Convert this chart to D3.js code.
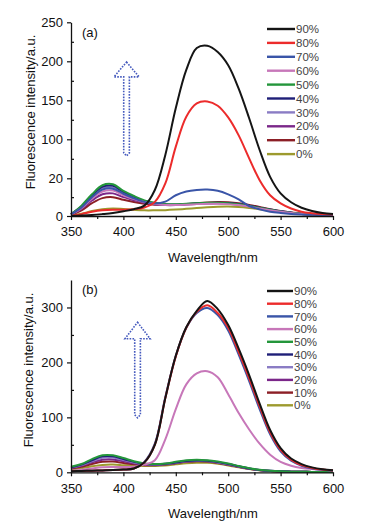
<!DOCTYPE html>
<html>
<head>
<meta charset="utf-8">
<script src="https://cdn.jsdelivr.net/npm/d3@7"></script>
<style>
  body { margin: 0; background: #fff; }
  svg { display: block; font-family: "Liberation Sans", Arial, sans-serif; }
</style>
</head>
<body>
<div id="chart"></div>
<script>
// Fluorescence spectra, two panels (a) and (b)

const wavelengths = [350,360,370,380,390,400,410,420,430,440,450,460,470,480,490,500,510,520,530,540,550,560,570,580,590,600];
const seriesLabels = ["90%","80%","70%","60%","50%","40%","30%","20%","10%","0%"];
const seriesColors = ["#151515","#ec2b2b","#3a55a8","#c777b9","#24963b","#1f1f78","#8a7cc4","#7b2789","#8c1f26","#9d9a2e"];

// panel (a)
const a90 = [0,0.2,0.5,1,1.6,2.5,3.6,5.5,13.8,68,140,189,217,220,212,195,165,127,78,23,12,7.3,4.4,2.7,1.6,1];
const a80 = [0,1,2.2,3,3.3,3.3,3.6,4.5,7.5,17.3,85,129,146,148.5,143,128,105,61,19,11,6.7,4,2.3,1.5,1,0.8];
const a70 = [0.9,4.5,10,14,14.5,11.8,9.4,7.5,6.6,7.6,11,13,13.8,14,13.4,11.5,8.8,5.3,3.5,2.3,1.6,1.1,0.8,0.6,0.4,0.3];
const a60 = [0.8,4.2,9.2,13,13.5,11,9,7.4,6.4,5.9,5.8,6,6.3,6.5,6.5,6.3,5.8,5,4,3.1,2.3,1.6,1.1,0.7,0.5,0.3];
const a50 = [1,5.5,11.5,16.3,16.8,13.3,10.6,8.3,7,6.3,6.2,6.5,6.8,7,7,6.8,6.2,5.3,4.3,3.3,2.4,1.7,1.2,0.8,0.5,0.3];
const a40 = [1,5,11,15.5,16,12.8,10.2,8,6.8,6.2,6.1,6.4,6.7,6.9,7,6.9,6.4,5.5,4.4,3.4,2.5,1.8,1.2,0.8,0.5,0.3];
const a30 = [0.9,4.6,10.2,14.5,15,12,9.6,7.7,6.6,6,5.9,6.2,6.5,6.7,6.8,6.6,6.1,5.2,4.2,3.2,2.4,1.7,1.1,0.7,0.5,0.3];
const a20 = [0.8,3.8,8.2,11.5,12,10,8.4,7,6.2,5.8,5.8,6.1,6.4,6.6,6.7,6.5,6,5.2,4.2,3.2,2.4,1.7,1.1,0.7,0.5,0.3];
const a10 = [0.7,3,6.8,9.5,10,8.6,7.4,6.5,6,5.8,5.9,6.3,6.8,7.2,7.4,7.3,6.8,5.9,4.8,3.6,2.6,1.8,1.2,0.8,0.5,0.3];
const a0  = [0.3,1.2,2.6,3.6,4,3.7,3.3,3,3,3.1,3.4,3.8,4.2,4.6,4.9,5,4.8,4.3,3.6,2.8,2.1,1.5,1,0.7,0.4,0.3];

// panel (b)
const b90 = [2,2.5,3,3.5,4,5,7,18,50,135,212,264,294,312,297,268,225,177,125,77,44,25,15,9,5.5,3.6];
const b80 = [2,2.5,3,3.5,4,5,7,18,50,135,211,263,292,304,290,263,219,171,120,73,41,23,13,8,5,3.5];
const b70 = [2,2.5,3,3.5,4,5,7,19,52,137,212,263,290,299,286,258,214,166,115,69,38,21,12,7,4.5,3];
const b60 = [3,4.5,7,9,9.5,9.5,10,14,22,60,115,160,180,184,173,142,108,78,52,32,19,12,8,6,4.5,3.5];
const b50 = [10,15,24,31,31,26,20,16,15,16,19,22,23,22,19.5,16,11.5,7.5,4.5,2.8,1.8,1.2,0.9,0.7,0.6,0.5];
const b40 = [9,14,22,29,29,24,19,15.5,14.5,15.5,18,20.5,21.5,21,18.5,15,11,7,4.3,2.7,1.7,1.2,0.9,0.7,0.6,0.5];
const b30 = [8.5,13,20,26.5,27,22.5,18,15,14,15,17.5,20,21,20.5,18,14.5,10.5,6.8,4.2,2.6,1.7,1.2,0.9,0.7,0.6,0.5];
const b20 = [8,12,18,23,23.5,20,16.5,14,13.5,14.5,17,19.5,20.5,20,17.5,14,10.2,6.6,4,2.5,1.6,1.1,0.9,0.7,0.6,0.5];
const b10 = [7,10,15,19,19.5,17,14.5,13,12.8,14,16.5,19,20,19.5,17,13.7,10,6.4,3.9,2.4,1.6,1.1,0.9,0.7,0.6,0.5];
const b0  = [5,7.5,11,13.5,14,13,12,11.5,11.5,12.5,14.5,16.5,17.5,17.3,15.5,12.5,9,5.8,3.6,2.2,1.5,1.1,0.9,0.7,0.6,0.5];

const xTicks = [350,400,450,500,550,600];
const xMinorTicks = [375,425,475,525,575];
const aTicks = [0,20,100,150,200,250];
const aMinorTicks = [10,60,125,175,225];
const bTicks = [0,100,200,300];
const bMinorTicks = [50,150,250];

// arrow annotation in data units: [wavelength, tip, head base, bottom]
const aArrow = [403, 199, 180, 68];
const bArrow = [413.5, 273, 243, 101];

const W = 379, H = 527;
const svg = d3.select("#chart").append("svg").attr("width", W).attr("height", H);

const panels = [
  {
    tag: "(a)", series: [a90,a80,a70,a60,a50,a40,a30,a20,a10,a0],
    yDomain: [0,20,100,250], yRange: [216,178.3,139.3,22.3],
    ticks: aTicks, minor: aMinorTicks, arrow: aArrow,
    legendY: 29, legendStep: 13.9, legendX2: 295,
    tagY: 37, xLabelY: 262, yLabelX: 35, yLabelY: 112
  },
  {
    tag: "(b)", series: [b90,b80,b70,b60,b50,b40,b30,b20,b10,b0],
    yDomain: [0,350], yRange: [472.3,280],
    ticks: bTicks, minor: bMinorTicks, arrow: bArrow,
    legendY: 291, legendStep: 12.7, legendX2: 293,
    tagY: 294, xLabelY: 518, yLabelX: 33, yLabelY: 370
  }
];

const x = d3.scaleLinear().domain([350, 600]).range([71, 333]);

panels.forEach(p => {
  const y = d3.scaleLinear().domain(p.yDomain).range(p.yRange);
  const g = svg.append("g");
  const y0 = y(0);

  // curves, 0% first so 90% ends on top
  const line = d3.line()
    .x(d => x(d[0]))
    .y(d => y(d[1]))
    .curve(d3.curveCatmullRom.alpha(0.5));

  for (let i = p.series.length - 1; i >= 0; i--) {
    const pts = wavelengths.map((w, j) => [w, p.series[i][j]]);
    g.append("path")
      .datum(pts)
      .attr("fill", "none")
      .attr("stroke", seriesColors[i])
      .attr("stroke-width", 2)
      .attr("stroke-linejoin", "round")
      .attr("d", line);
  }

  // x axis
  g.append("g").attr("transform", `translate(0,${y0})`)
    .call(d3.axisBottom(x).tickValues(xTicks).tickSize(4).tickSizeOuter(0).tickPadding(7));
  g.append("g").attr("transform", `translate(0,${y0})`)
    .call(d3.axisBottom(x).tickValues(xMinorTicks).tickSize(3).tickFormat(""))
    .select(".domain").remove();

  // y axis
  g.append("g").attr("transform", `translate(${x(350)},0)`)
    .call(d3.axisLeft(y).tickValues(p.ticks).tickSize(4).tickSizeOuter(0).tickPadding(4));
  g.append("g").attr("transform", `translate(${x(350)},0)`)
    .call(d3.axisLeft(y).tickValues(p.minor).tickSize(-3).tickFormat(""))
    .select(".domain").remove();

  g.selectAll(".domain").attr("stroke", "#111").attr("stroke-width", 1.3);
  g.selectAll(".tick line").attr("stroke", "#111").attr("stroke-width", 1.2);
  g.selectAll(".tick text").attr("font-size", 13).attr("fill", "#111")
    .attr("font-family", "Liberation Sans, Arial, sans-serif");

  // axis titles
  g.append("text")
    .attr("x", 213).attr("y", p.xLabelY)
    .attr("text-anchor", "middle").attr("font-size", 13).attr("fill", "#111")
    .text("Wavelength/nm");
  g.append("text")
    .attr("transform", `translate(${p.yLabelX},${p.yLabelY}) rotate(-90)`)
    .attr("text-anchor", "middle").attr("font-size", 13).attr("fill", "#111")
    .text("Fluorescence intensity/a.u.");

  // panel tag
  g.append("text").attr("x", 82).attr("y", p.tagY)
    .attr("font-size", 13).attr("fill", "#111").text(p.tag);

  // legend
  const leg = g.append("g");
  seriesLabels.forEach((lab, i) => {
    const ly = p.legendY + i * p.legendStep;
    leg.append("line")
      .attr("x1", 267).attr("x2", p.legendX2).attr("y1", ly).attr("y2", ly)
      .attr("stroke", seriesColors[i]).attr("stroke-width", 2.4);
    leg.append("text")
      .attr("x", p.legendX2 + 1).attr("y", ly).attr("dy", "0.36em")
      .attr("font-size", 11.5).attr("fill", "#444").text(lab);
  });

  // dotted hollow arrow
  const [aw, tip, base, bottom] = p.arrow;
  const hw = 12, sw = 2.7;
  const arrowPts = [
    [x(aw), y(tip)],
    [x(aw + hw), y(base)],
    [x(aw + sw), y(base)],
    [x(aw + sw), y(bottom) - 2],
    [x(aw), y(bottom) + 1],
    [x(aw - sw), y(bottom) - 2],
    [x(aw - sw), y(base)],
    [x(aw - hw), y(base)]
  ];
  g.append("path")
    .attr("d", d3.line()(arrowPts) + "Z")
    .attr("fill", "none")
    .attr("stroke", "#4459bd")
    .attr("stroke-width", 1.6)
    .attr("stroke-dasharray", "1.6 1.3");
});
</script>
</body>
</html>
